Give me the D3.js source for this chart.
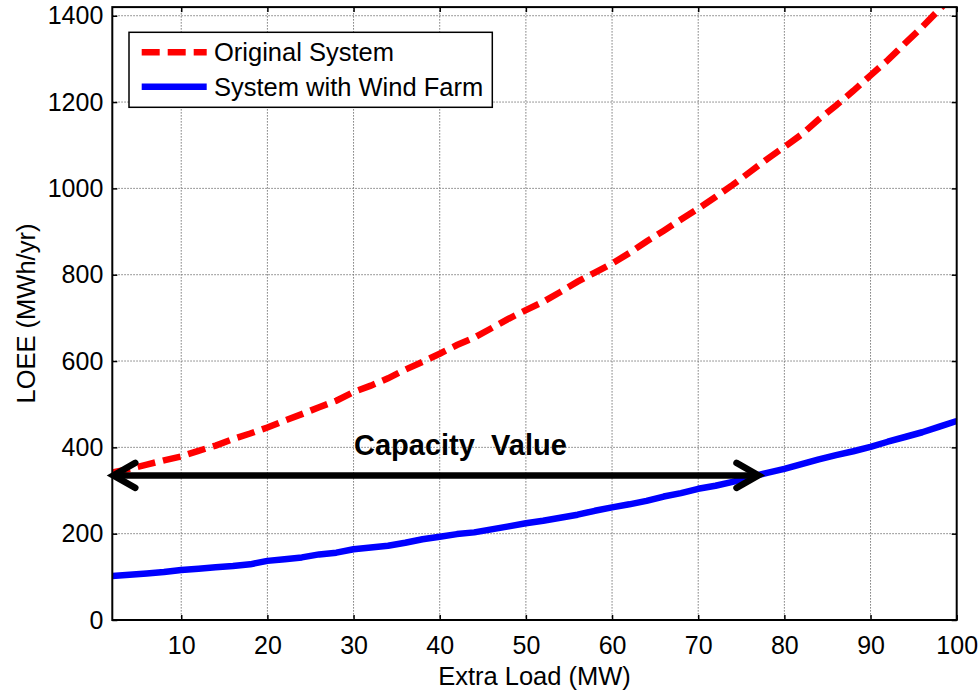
<!DOCTYPE html>
<html>
<head>
<meta charset="utf-8">
<script src="https://cdn.jsdelivr.net/npm/d3@7"></script>
<style>
  html, body { margin: 0; padding: 0; background: #fff; }
  svg { display: block; font-family: Arial, "Liberation Sans", Helvetica, sans-serif; }
</style>
</head>
<body>
<svg id="chart" width="980" height="691"></svg>
<script>
// Extra load added to the system (MW)
const extraLoad = [2,4,6,8,10,12,14,16,18,20,22,24,26,28,30,32,34,36,38,40,
  42,44,46,48,50,52,54,56,58,60,62,64,66,68,70,72,74,76,78,80,
  82,84,86,88,90,92,94,96,98,100];

// Loss of energy expectation, original system (MWh/yr)
const loeeOriginal = [342,350,360,370,379,392,404,419,432,446,462,477,493,508,528,543,560,580,598,617,
  637,654,676,698,718,737,760,784,805,826,850,877,902,928,953,980,1008,1038,1068,1096,
  1125,1160,1192,1226,1262,1297,1336,1374,1415,1455];

// Loss of energy expectation, system with the wind farm (MWh/yr)
const loeeWind = [102,105,108,111,116,119,122,125,129,137,141,145,152,156,164,168,172,179,187,193,
  199,203,210,217,224,230,237,244,253,261,268,276,286,294,304,311,320,331,341,350,
  361,372,382,391,401,413,424,435,448,461];

// Capacity value arrow: same LOEE level, from original to wind-farm curve
const arrowLoad = [2, 77];
const arrowLoee = 335;

const xTicks = [10,20,30,40,50,60,70,80,90,100];
const yTicks = [0,200,400,600,800,1000,1200,1400];

const seriesNames = ["Original System", "System with Wind Farm"];

const svg = d3.select("#chart");
const L = 112.3, R = 956.7, T = 7.1, B = 620;

const x = d3.scaleLinear().domain([2, 100]).range([L, R]);
const y = d3.scaleLinear().domain([0, 1420]).range([B, T]);

// clip region for the data lines
svg.append("defs").append("clipPath").attr("id", "plotclip")
  .append("rect").attr("x", L).attr("y", T).attr("width", R - L).attr("height", B - T);

// dotted grid
const grid = svg.append("g").attr("stroke", "#7a7a7a").attr("stroke-width", 1)
  .attr("stroke-dasharray", "1.5,1.5");
xTicks.filter(d => x(d) < R - 1).forEach(d => {
  grid.append("line").attr("x1", x(d)).attr("x2", x(d)).attr("y1", T).attr("y2", B);
});
yTicks.filter(d => y(d) > T + 1 && d > 0).forEach(d => {
  grid.append("line").attr("x1", L).attr("x2", R).attr("y1", y(d)).attr("y2", y(d));
});

// axes (inward ticks on all four sides)
const fs = 25;
const fmt = d3.format("d");
const xAxis = svg.append("g").attr("transform", `translate(0,${B})`)
  .call(d3.axisBottom(x).tickValues(xTicks).tickFormat(fmt).tickSizeInner(-5).tickSizeOuter(0).tickPadding(16));
const yAxis = svg.append("g").attr("transform", `translate(${L},0)`)
  .call(d3.axisLeft(y).tickValues(yTicks).tickFormat(fmt).tickSizeInner(-5).tickSizeOuter(0).tickPadding(9));
const xTop = svg.append("g").attr("transform", `translate(0,${T})`)
  .call(d3.axisTop(x).tickValues(xTicks).tickSizeInner(-5).tickSizeOuter(0).tickFormat(""));
const yRight = svg.append("g").attr("transform", `translate(${R},0)`)
  .call(d3.axisRight(y).tickValues(yTicks).tickSizeInner(-5).tickSizeOuter(0).tickFormat(""));

[xAxis, yAxis, xTop, yRight].forEach(g => {
  g.select(".domain").remove();
  g.selectAll(".tick line").attr("stroke", "#000").attr("stroke-width", 1.5);
  g.selectAll("text").attr("fill", "#000").style("font-size", fs + "px")
    .style("font-family", "Arial, 'Liberation Sans', sans-serif");
});

// data lines
const line = d3.line().x((d, i) => x(extraLoad[i])).y(d => y(d));
const plot = svg.append("g").attr("clip-path", "url(#plotclip)");

plot.append("path").datum(loeeWind)
  .attr("d", line).attr("fill", "none").attr("stroke", "#0000ff")
  .attr("stroke-width", 6.5).attr("stroke-linejoin", "round");

plot.append("path").datum(loeeOriginal)
  .attr("d", line).attr("fill", "none").attr("stroke", "#ff0000")
  .attr("stroke-width", 6.5).attr("stroke-dasharray", "18,8");

// capacity value double arrow
const ay = y(arrowLoee), ax0 = x(arrowLoad[0]), ax1 = x(arrowLoad[1]);
const arrow = svg.append("g").attr("stroke", "#000").attr("stroke-width", 6.5)
  .attr("stroke-linecap", "round").attr("fill", "none");
arrow.append("line").attr("x1", ax0 + 2).attr("x2", ax1 - 2).attr("y1", ay).attr("y2", ay);
arrow.append("path").attr("d", `M${ax0 + 23},${ay - 12.5} L${ax0 + 1},${ay} L${ax0 + 23},${ay + 12.5}`)
  .attr("stroke-linejoin", "miter");
arrow.append("path").attr("d", `M${ax1 - 22},${ay - 12.5} L${ax1},${ay} L${ax1 - 22},${ay + 12.5}`)
  .attr("stroke-linejoin", "miter");

svg.append("text").attr("x", (ax0 + ax1) / 2 + 25).attr("y", ay - 20)
  .attr("text-anchor", "middle").attr("font-weight", "bold").attr("font-size", 29)
  .style("white-space", "pre").text("Capacity  Value");

// axes box
svg.append("rect").attr("x", L).attr("y", T).attr("width", R - L).attr("height", B - T)
  .attr("fill", "none").attr("stroke", "#000").attr("stroke-width", 2);

// axis titles
svg.append("text").attr("x", (L + R) / 2).attr("y", 685).attr("text-anchor", "middle")
  .attr("font-size", 25.5).text("Extra Load (MW)");
svg.append("text").attr("transform", `translate(35,${(T + B) / 2}) rotate(-90)`)
  .attr("text-anchor", "middle").attr("font-size", 25.5).text("LOEE (MWh/yr)");

// legend
const lg = svg.append("g");
lg.append("rect").attr("x", 129).attr("y", 32.3).attr("width", 363.3).attr("height", 75)
  .attr("fill", "#fff").attr("stroke", "#000").attr("stroke-width", 1.5);
const rows = [
  { name: seriesNames[0], color: "#ff0000", dash: "18,8", cy: 52.3 },
  { name: seriesNames[1], color: "#0000ff", dash: null, cy: 86.7 }
];
rows.forEach(r => {
  lg.append("line").attr("x1", 141.7).attr("x2", 206.7).attr("y1", r.cy).attr("y2", r.cy)
    .attr("stroke", r.color).attr("stroke-width", 6.5)
    .attr("stroke-dasharray", r.dash);
  lg.append("text").attr("x", 214).attr("y", r.cy).attr("dy", "0.36em")
    .attr("font-size", 25.5).text(r.name);
});
</script>
</body>
</html>
